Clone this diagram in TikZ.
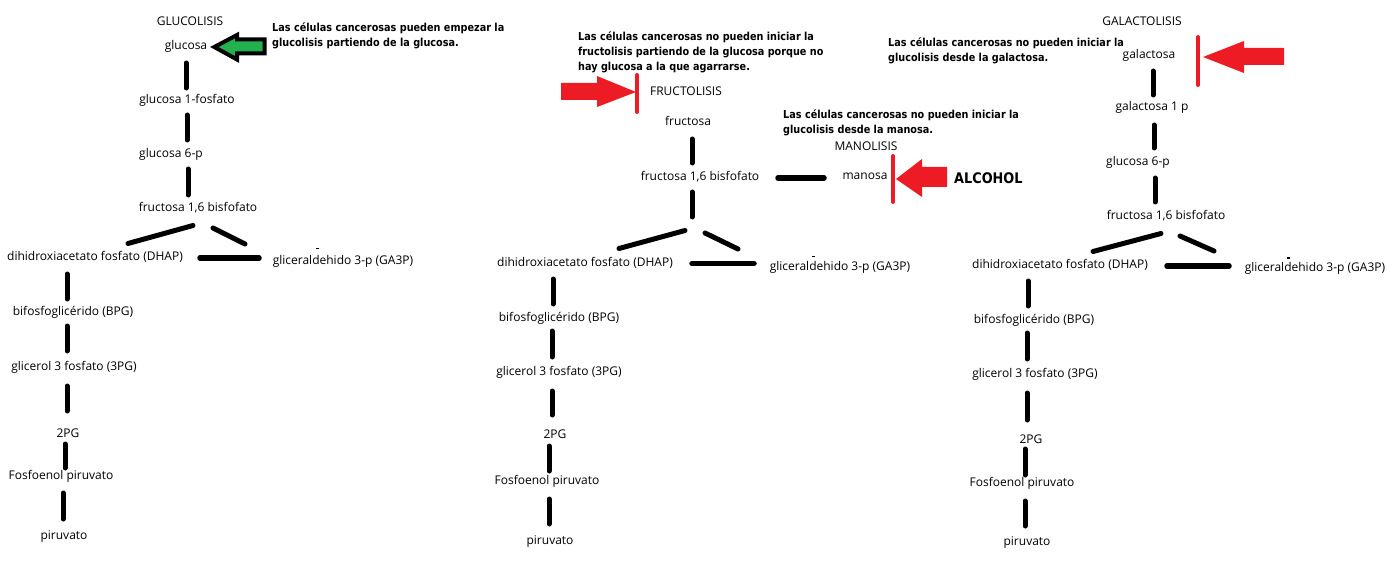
\documentclass[tikz,border=0pt]{standalone}
\usepackage{fontspec}
\setmainfont{Open Sans}
\newfontfamily\annfont{DejaVu Sans}[FakeStretch=0.88]
\definecolor{pgreen}{HTML}{22B14C}
\definecolor{pred}{HTML}{ED1C24}
\begin{document}
\begin{tikzpicture}[x=1pt,y=-1pt,
  lbl/.style={font=\fontsize{12}{14}\selectfont, inner sep=0pt, text height=9pt, text depth=3pt},
  ann/.style={font=\annfont\bfseries\fontsize{11}{15}\selectfont, inner sep=0pt, align=left, anchor=north west},
  big/.style={font=\annfont\bfseries\fontsize{14.6}{16}\selectfont, inner sep=0pt, anchor=west},
  conn/.style={line width=5pt, line cap=round},
  hconn/.style={line width=5.5pt, line cap=round},
  redarrow/.style={fill=pred},
  redbar/.style={draw=pred, line width=4pt, line cap=round},
  greenarrow/.style={fill=pgreen, draw=black, line width=4pt, line join=miter},
  tick/.style={fill=black}
]
\fill[white] (0,0) rectangle (1395,564);
\useasboundingbox (0,0) rectangle (1395,564);

% ---------------- Panel 1: glucolisis
\node[lbl] (t1) at (190,23) {GLUCOLISIS};
\node[lbl] (glu) at (186,47) {glucosa};
\node[lbl] (g1p) at (187,101) {glucosa 1-fosfato};
\node[lbl] (g6pa) at (171,155) {glucosa 6-p};
\node[lbl] (f16a) at (198,209) {fructosa 1,6 bisfofato};
\node[lbl] (dhapa) at (95,258) {dihidroxiacetato fosfato (DHAP)};
\node[lbl] (gapa) at (343,262) {gliceraldehido 3-p (GA3P)};
\node[lbl] (bpga) at (73,312) {bifosfoglicérido (BPG)};
\node[lbl] (pg3a) at (74,367) {glicerol 3 fosfato (3PG)};
\node[lbl] (pg2a) at (68,434) {2PG};
\node[lbl] (pepa) at (61,476) {Fosfoenol piruvato};
\node[lbl] (pira) at (64,536) {piruvato};
\node[ann] (ann1) at (272,22.2) {Las células cancerosas pueden empezar la\\glucolisis partiendo de la glucosa.};

\draw[conn] ([shift={(0,16)}]glu.center) -- ([shift={(-1,-13)}]g1p.center);
\draw[conn] ([shift={(0,14)}]g1p.center) -- ([shift={(16,-15)}]g6pa.center);
\draw[conn] ([shift={(17,14)}]g6pa.center) -- ([shift={(-10,-14)}]f16a.center);
\draw[conn] ([shift={(-5,16.5)}]f16a.center) -- ([shift={(33,-14.5)}]dhapa.center);
\draw[conn] ([shift={(15,19)}]f16a.center) -- ([shift={(-98,-18)}]gapa.center);
\draw[hconn] ([shift={(105,0)}]dhapa.center) -- ([shift={(-84,-4)}]gapa.center);
\draw[conn] ([shift={(-28,16)}]dhapa.center) -- ([shift={(-6,-13)}]bpga.center);
\draw[conn] ([shift={(-6,14)}]bpga.center) -- ([shift={(-7,-16)}]pg3a.center);
\draw[conn] ([shift={(-7,19)}]pg3a.center) -- ([shift={(-1,-23)}]pg2a.center);
\draw[conn] ([shift={(-3,10)}]pg2a.center) -- ([shift={(4,-8)}]pepa.center);
\draw[conn] ([shift={(2,17)}]pepa.center) -- ([shift={(-1,-17)}]pira.center);
\fill[tick] (315.5,248) rectangle (318.5,249.5);

\filldraw[greenarrow] (214.3,47) -- (237,35) -- (237,39.5) -- (264.5,39.5) -- (264.5,53.5) -- (237,53.5) -- (237,59.5) -- cycle;

% ---------------- Panel 2: fructolisis / manolisis
\node[ann] (ann2) at (578,31.2) {Las células cancerosas no pueden iniciar la\\fructolisis partiendo de la glucosa porque no\\hay glucosa a la que agarrarse.};
\node[lbl] (t2) at (686,93) {FRUCTOLISIS};
\node[lbl] (fru) at (688,123) {fructosa};
\node[lbl] (f16b) at (700,178) {fructosa 1,6 bisfofato};
\node[lbl] (t3) at (866,148) {MANOLISIS};
\node[lbl] (man) at (865,177) {manosa};
\node[ann] (ann3) at (783,109.5) {Las células cancerosas no pueden iniciar la\\glucolisis desde la manosa.};
\node[big] (alc) at (954,178) {ALCOHOL};
\node[lbl] (dhapb) at (585,263) {dihidroxiacetato fosfato (DHAP)};
\node[lbl] (gapb) at (840,267) {gliceraldehido 3-p (GA3P)};
\node[lbl] (bpgb) at (559,318) {bifosfoglicérido (BPG)};
\node[lbl] (pg3b) at (559,372) {glicerol 3 fosfato (3PG)};
\node[lbl] (pg2b) at (555,435) {2PG};
\node[lbl] (pepb) at (547,481) {Fosfoenol piruvato};
\node[lbl] (pirb) at (550,541) {piruvato};
\coordinate (forkb) at (692,217);

\draw[conn] ([shift={(4,16)}]fru.center) -- ([shift={(-8,-15)}]f16b.center);
\draw[hconn] ([shift={(78,0)}]f16b.center) -- ([shift={(-41,1)}]man.center);
\draw[conn] ([shift={(-8,14)}]f16b.center) -- (forkb);
\draw[conn] ([shift={(-15,52.5)}]f16b.center) -- ([shift={(34,-14.5)}]dhapb.center);
\draw[conn] ([shift={(5,55)}]f16b.center) -- ([shift={(-102,-18)}]gapb.center);
\draw[hconn] ([shift={(107,0.5)}]dhapb.center) -- ([shift={(-86,-3.5)}]gapb.center);
\draw[conn] ([shift={(-32,16)}]dhapb.center) -- ([shift={(-6,-14)}]bpgb.center);
\draw[conn] ([shift={(-7,13)}]bpgb.center) -- ([shift={(-7,-15)}]pg3b.center);
\draw[conn] ([shift={(-7,19)}]pg3b.center) -- ([shift={(-3,-20)}]pg2b.center);
\draw[conn] ([shift={(-6,11)}]pg2b.center) -- ([shift={(2,-10)}]pepb.center);
\draw[conn] ([shift={(2,18)}]pepb.center) -- ([shift={(-1,-17)}]pirb.center);
\fill[tick] (811.5,256) rectangle (814.5,257.5);

\fill[redarrow] (561,83) -- (597,83) -- (597,76) -- (636,92) -- (597,107) -- (597,100) -- (561,100) -- cycle;
\draw[redbar] (637,75) -- (637,112);
\fill[redarrow] (947,167) -- (922,167) -- (922,159) -- (896,179) -- (922,197) -- (922,187) -- (947,187) -- cycle;
\draw[redbar] (893,156) -- (893,202);

% ---------------- Panel 3: galactolisis
\node[lbl] (t4) at (1142,23) {GALACTOLISIS};
\node[ann] (ann4) at (888,37.9) {Las células cancerosas no pueden iniciar la\\glucolisis desde la galactosa.};
\node[lbl] (gal) at (1149,56) {galactosa};
\node[lbl] (gal1p) at (1152,108) {galactosa 1 p};
\node[lbl] (g6pc) at (1138,163) {glucosa 6-p};
\node[lbl] (f16c) at (1166,217) {fructosa 1,6 bisfofato};
\node[lbl] (dhapc) at (1060,266) {dihidroxiacetato fosfato (DHAP)};
\node[lbl] (gapc) at (1315,269) {gliceraldehido 3-p (GA3P)};
\node[lbl] (bpgc) at (1034,320) {bifosfoglicérido (BPG)};
\node[lbl] (pg3c) at (1035,374) {glicerol 3 fosfato (3PG)};
\node[lbl] (pg2c) at (1031,440) {2PG};
\node[lbl] (pepc) at (1022,483) {Fosfoenol piruvato};
\node[lbl] (pirc) at (1027,542) {piruvato};

\draw[conn] ([shift={(4,15)}]gal.center) -- ([shift={(1,-13)}]gal1p.center);
\draw[conn] ([shift={(2,17)}]gal1p.center) -- ([shift={(16,-15)}]g6pc.center);
\draw[conn] ([shift={(17,15)}]g6pc.center) -- ([shift={(-11,-15)}]f16c.center);
\draw[conn] ([shift={(-5,16.5)}]f16c.center) -- ([shift={(33,-14.5)}]dhapc.center);
\draw[conn] ([shift={(14,19)}]f16c.center) -- ([shift={(-101,-18)}]gapc.center);
\draw[hconn] ([shift={(107,0)}]dhapc.center) -- ([shift={(-86,-3)}]gapc.center);
\draw[conn] ([shift={(-32,15)}]dhapc.center) -- ([shift={(-6,-14)}]bpgc.center);
\draw[conn] ([shift={(-7,13)}]bpgc.center) -- ([shift={(-8,-15)}]pg3c.center);
\draw[conn] ([shift={(-8,19)}]pg3c.center) -- ([shift={(-4,-20)}]pg2c.center);
\draw[conn] ([shift={(-6,9)}]pg2c.center) -- ([shift={(3,-8)}]pepc.center);
\draw[conn] ([shift={(3,18)}]pepc.center) -- ([shift={(-2,-16)}]pirc.center);
\fill[tick] (1286.5,257) rectangle (1289.5,258.5);

\fill[redarrow] (1284,48) -- (1244,48) -- (1244,41) -- (1203,57) -- (1244,73) -- (1244,65) -- (1284,65) -- cycle;
\draw[redbar] (1198,37) -- (1198,85);
\end{tikzpicture}
\end{document}
